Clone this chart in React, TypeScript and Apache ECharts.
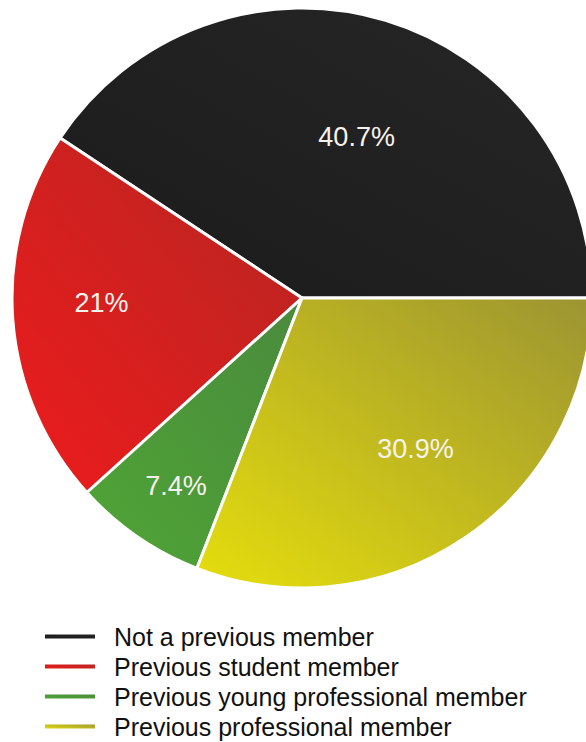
import React, { useEffect, useRef } from "react";
import * as echarts from "echarts";

const categories = [
  "Not a previous member",
  "Previous student member",
  "Previous young professional member",
  "Previous professional member",
];
const values = [40.7, 21, 7.4, 30.9];
const labelOffsets: [number, number][] = [
  [12, -19],
  [-53, -6],
  [-42, 66],
  [30, 29],
];
const gradients: [string, string][] = [
  ["#1b1b1b", "#262626"],
  ["#ee1b1c", "#b42622"],
  ["#4fa535", "#4a8a3d"],
  ["#e6de0c", "#9c9432"],
];

export default function App() {
  const ref = useRef<HTMLDivElement>(null);
  useEffect(() => {
    if (!ref.current) return;
    const chart = echarts.init(ref.current, undefined, { renderer: "svg" });
    const data = categories.map((name, i) => ({
      name,
      value: values[i],
      itemStyle: {
        color: new echarts.graphic.LinearGradient(0, 1, 1, 0, [
          { offset: 0, color: gradients[i][0] },
          { offset: 1, color: gradients[i][1] },
        ]),
      },
      label: { offset: labelOffsets[i] },
    }));
    chart.setOption({
      animation: false,
      backgroundColor: "#ffffff",
      legend: {
        orient: "vertical",
        left: 43,
        top: 624,
        height: 118,
        padding: 0,
        icon: "rect",
        itemWidth: 52,
        itemHeight: 6,
        itemGap: 5,
        selectedMode: false,
        textStyle: {
          fontFamily: "Liberation Sans, Arial, sans-serif",
          fontSize: 25,
          lineHeight: 25,
          color: "#111111",
          padding: [0, 0, 0, 13],
        },
        data: categories,
      },
      series: [
        {
          type: "pie",
          center: [302, 298],
          radius: 290,
          startAngle: 0,
          clockwise: false,
          silent: true,
          itemStyle: { borderColor: "#ffffff", borderWidth: 3 },
          label: {
            show: true,
            position: "inside",
            formatter: "{c}%",
            color: "#f6f3ee",
            fontFamily: "Liberation Sans, Arial, sans-serif",
            fontSize: 27,
          },
          labelLine: { show: false },
          data,
        },
      ],
    });
    return () => chart.dispose();
  }, []);
  return (
    <div
      ref={ref}
      style={{ position: "fixed", left: 0, top: 0, width: 586, height: 742 }}
    />
  );
}
